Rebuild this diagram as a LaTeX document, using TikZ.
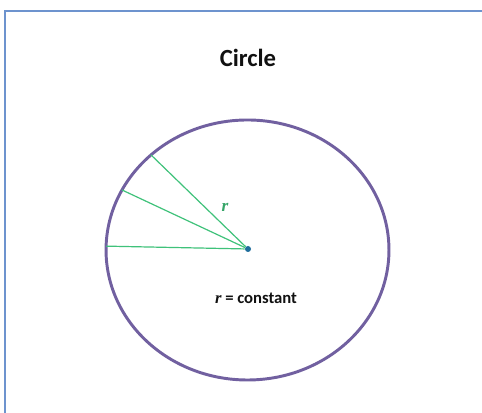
\documentclass[tikz,border=0pt]{standalone}
\usepackage{fontspec}
\setmainfont{Carlito}
\newfontfamily\symfont{Liberation Serif}
\usetikzlibrary{calc, positioning}
\definecolor{frame} {HTML}{6D93CE}
\definecolor{rim}   {HTML}{7160A0}
\definecolor{radial}{HTML}{3FC27A}
\definecolor{hub}   {HTML}{1F6E9C}
\definecolor{ink}   {HTML}{111111}

\begin{document}
\begin{tikzpicture}[x=0.75pt, y=0.75pt,
    crim/.style={draw=rim, line width=2.2pt},
    crad/.style={draw=radial, line width=0.9pt},
    chub/.style={circle, fill=hub, inner sep=0pt, minimum size=4.5pt},
    ctitle/.style={text=ink, font=\bfseries\fontsize{18.5}{20}\selectfont},
    clabel/.style={text=ink, font=\bfseries\fontsize{12.5}{14}\selectfont}
  ]
    \useasboundingbox (0,0) rectangle (482,413);
    \fill[white] (0,0) rectangle (482,413);

    % frame shows only its top and left edges, the rest runs off the page
    \draw[frame, line width=1.2pt] (5,0) -- (5,402) -- (482,402);

    \node[ctitle] (title) at (248,355) {Circle};

    \coordinate (ctr) at (247.5,163);
    \draw[crim] (ctr) ellipse [x radius=106.1pt, y radius=97.5pt];

    \coordinate (p1) at ($(ctr)+(133:141.5 and 130)$);
    \coordinate (p2) at ($(ctr)+(152.5:141.5 and 130)$);
    \coordinate (p3) at ($(ctr)+(178.3:141.5 and 130)$);

    \node[chub] (hub) at (248,164) {};
    \draw[crad] (p1) -- (hub);
    \draw[crad] (p2) -- (hub);
    \draw[crad] (p3) -- (hub);

    \node[text=radial!85!black, font=\symfont\bfseries\itshape\fontsize{13}{14}\selectfont]
      (rlab) at (225,206) {r};
    \node[clabel] (const) at (256,115) {{\symfont\itshape r} = constant};
  \end{tikzpicture}
\end{document}
